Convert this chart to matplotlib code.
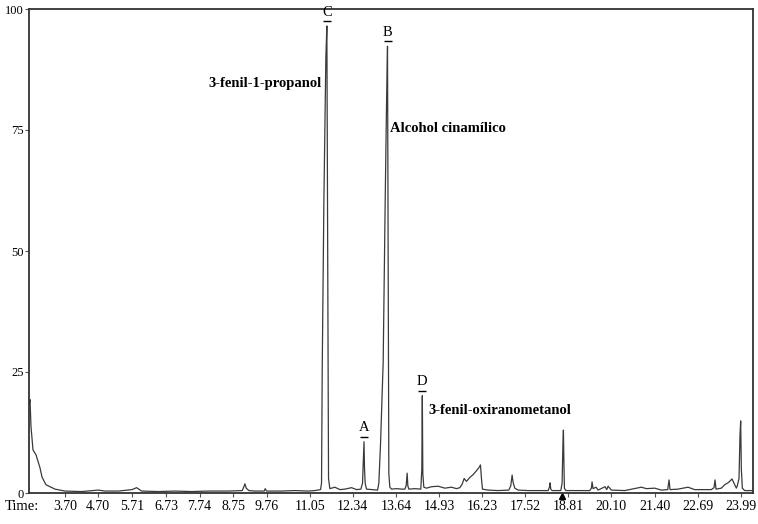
import matplotlib
matplotlib.use("Agg")
import matplotlib.pyplot as plt

plt.rcParams['font.family'] = ['Liberation Serif', 'DejaVu Serif']

# chromatogram trace (time in min, relative abundance %)
time = [2.62, 2.65, 2.68, 2.74, 2.83, 2.95, 3.01, 3.13, 3.40, 3.70, 4.20, 4.70, 4.90,
        5.30, 5.71, 5.85, 6.00, 6.50, 7.00, 7.50, 8.00, 8.60, 9.02, 9.07, 9.10, 9.14,
        9.22, 9.40, 9.68, 9.71, 9.75, 10.20, 10.60, 11.00, 11.20, 11.37, 11.40, 11.42,
        11.47, 11.53, 11.56, 11.59, 11.61, 11.65, 11.80, 11.95, 12.10, 12.30, 12.45,
        12.58, 12.63, 12.66, 12.675, 12.69, 12.71, 12.75, 12.90, 13.02, 13.08, 13.12,
        13.17, 13.25, 13.31, 13.35, 13.38, 13.40, 13.42, 13.45, 13.50, 13.65, 13.80,
        13.90, 13.94, 13.97, 13.99, 14.02, 14.20, 14.38, 14.41, 14.425, 14.44, 14.47,
        14.55, 14.70, 14.90, 15.10, 15.30, 15.45, 15.55, 15.62, 15.68, 15.75, 15.85,
        15.95, 16.05, 16.12, 16.17, 16.20, 16.23, 16.40, 16.70, 17.02, 17.08, 17.12,
        17.15, 17.20, 17.30, 17.60, 18.00, 18.20, 18.24, 18.26, 18.28, 18.32, 18.58,
        18.62, 18.645, 18.66, 18.675, 18.69, 18.73, 19.10, 19.45, 19.50, 19.52, 19.55,
        19.64, 19.70, 19.91, 19.96, 20.00, 20.10, 20.50, 20.85, 21.00, 21.15, 21.40,
        21.60, 21.79, 21.83, 21.86, 22.10, 22.40, 22.60, 23.10, 23.18, 23.21, 23.24,
        23.40, 23.50, 23.62, 23.72, 23.78, 23.85, 23.88, 23.93, 23.96, 23.98, 24.00,
        24.03, 24.10, 24.35]
intensity = [18.0, 19.3, 13.7, 8.9, 7.9, 5.2, 3.3, 1.7, 0.8, 0.4, 0.3, 0.6, 0.4,
             0.4, 0.7, 1.1, 0.4, 0.3, 0.4, 0.3, 0.4, 0.4, 0.5, 1.3, 1.9, 1.0,
             0.5, 0.4, 0.4, 0.9, 0.4, 0.4, 0.5, 0.4, 0.5, 0.7, 2.0, 25.0,
             60.0, 90.0, 96.5, 40.0, 3.0, 0.9, 1.2, 0.7, 0.8, 1.1, 0.7,
             0.8, 2.0, 8.0, 10.6, 5.0, 2.0, 0.8, 0.7, 0.6, 0.6, 2.0,
             10.0, 27.0, 60.0, 80.0, 92.3, 50.0, 4.0, 1.2, 0.8, 0.9, 0.8,
             0.8, 1.5, 4.1, 1.5, 0.8, 0.9, 0.8, 5.0, 20.1, 4.0, 1.2,
             1.0, 1.3, 1.4, 1.0, 1.2, 0.9, 1.1, 1.8, 3.0, 2.4, 3.2,
             3.8, 4.6, 5.2, 5.8, 3.0, 0.8, 0.6, 0.5, 0.6, 1.5, 3.7,
             2.2, 1.0, 0.6, 0.5, 0.5, 0.5, 1.2, 2.1, 0.8, 0.5, 0.5,
             2.0, 10.0, 13.0, 6.0, 1.0, 0.5, 0.5, 0.5, 1.0, 2.3, 0.9,
             1.2, 0.6, 1.3, 0.7, 1.4, 0.6, 0.5, 1.0, 1.2, 0.9, 1.0,
             0.6, 0.7, 2.7, 0.7, 0.8, 1.2, 0.7, 0.7, 1.1, 2.7, 0.8,
             1.0, 1.7, 2.2, 2.9, 2.0, 1.0, 1.5, 3.0, 12.0, 14.9, 5.0,
             1.0, 0.5, 0.5]

tick_times = [3.70, 4.70, 5.71, 6.73, 7.74, 8.75, 9.76, 11.05, 12.34, 13.64,
              14.93, 16.23, 17.52, 18.81, 20.10, 21.40, 22.69, 23.99]
y_ticks = [0, 25, 50, 75, 100]

# peak letters and compound names
peak_letters = ["C", "B", "A", "D"]
letter_times = [11.56, 13.38, 12.675, 14.425]
letter_heights = [96.5, 92.3, 10.6, 20.1]
compounds = ["3-fenil-1-propanol", "Alcohol cinamílico", "3-fenil-oxiranometanol"]
marker_time = 18.62

fig = plt.figure(figsize=(7.58, 5.24), dpi=100)
ax = fig.add_axes([29 / 758, 1 - 493 / 524, (753 - 29) / 758, (493 - 9) / 524])

ax.plot(time, intensity, color="#3a3a3a", lw=0.9)
ax.set_xlim(2.62, 24.35)
ax.set_ylim(0, 100)

ax.set_xticks(tick_times)
ax.set_xticklabels(["%.2f" % t for t in tick_times])
ax.set_yticks(y_ticks)
ax.tick_params(axis="both", direction="out", length=3, width=0.8,
               labelsize=10, pad=2, color="#555555")
ax.tick_params(axis="y", labelsize=9, pad=1)
for s in ax.spines.values():
    s.set_color("#333333")
    s.set_linewidth(1.3)

ax.text(-0.034, -0.028, "Time:", transform=ax.transAxes, fontsize=10.5,
        ha="left", va="center")

# letters, underlined with a short horizontal marker
for letter, t, h in zip(peak_letters, letter_times, letter_heights):
    ax.text(t, h + 1.5, letter, ha="center", va="bottom", fontsize=10.5)
    ax.plot([t], [h + 1.0], marker="_", markersize=6, mew=1.0, color="black")

ax.text(11.40, 84.6, compounds[0], ha="right", va="center", fontsize=10.5,
        fontweight="bold")
ax.text(13.45, 75.4, compounds[1], ha="left", va="center", fontsize=10.5,
        fontweight="bold")
ax.text(14.60, 17.1, compounds[2], ha="left", va="center", fontsize=10.5,
        fontweight="bold")

ax.plot([marker_time], [-0.7], marker="^", color="black", markersize=4,
        clip_on=False)

fig.savefig("out.png", dpi=100)
